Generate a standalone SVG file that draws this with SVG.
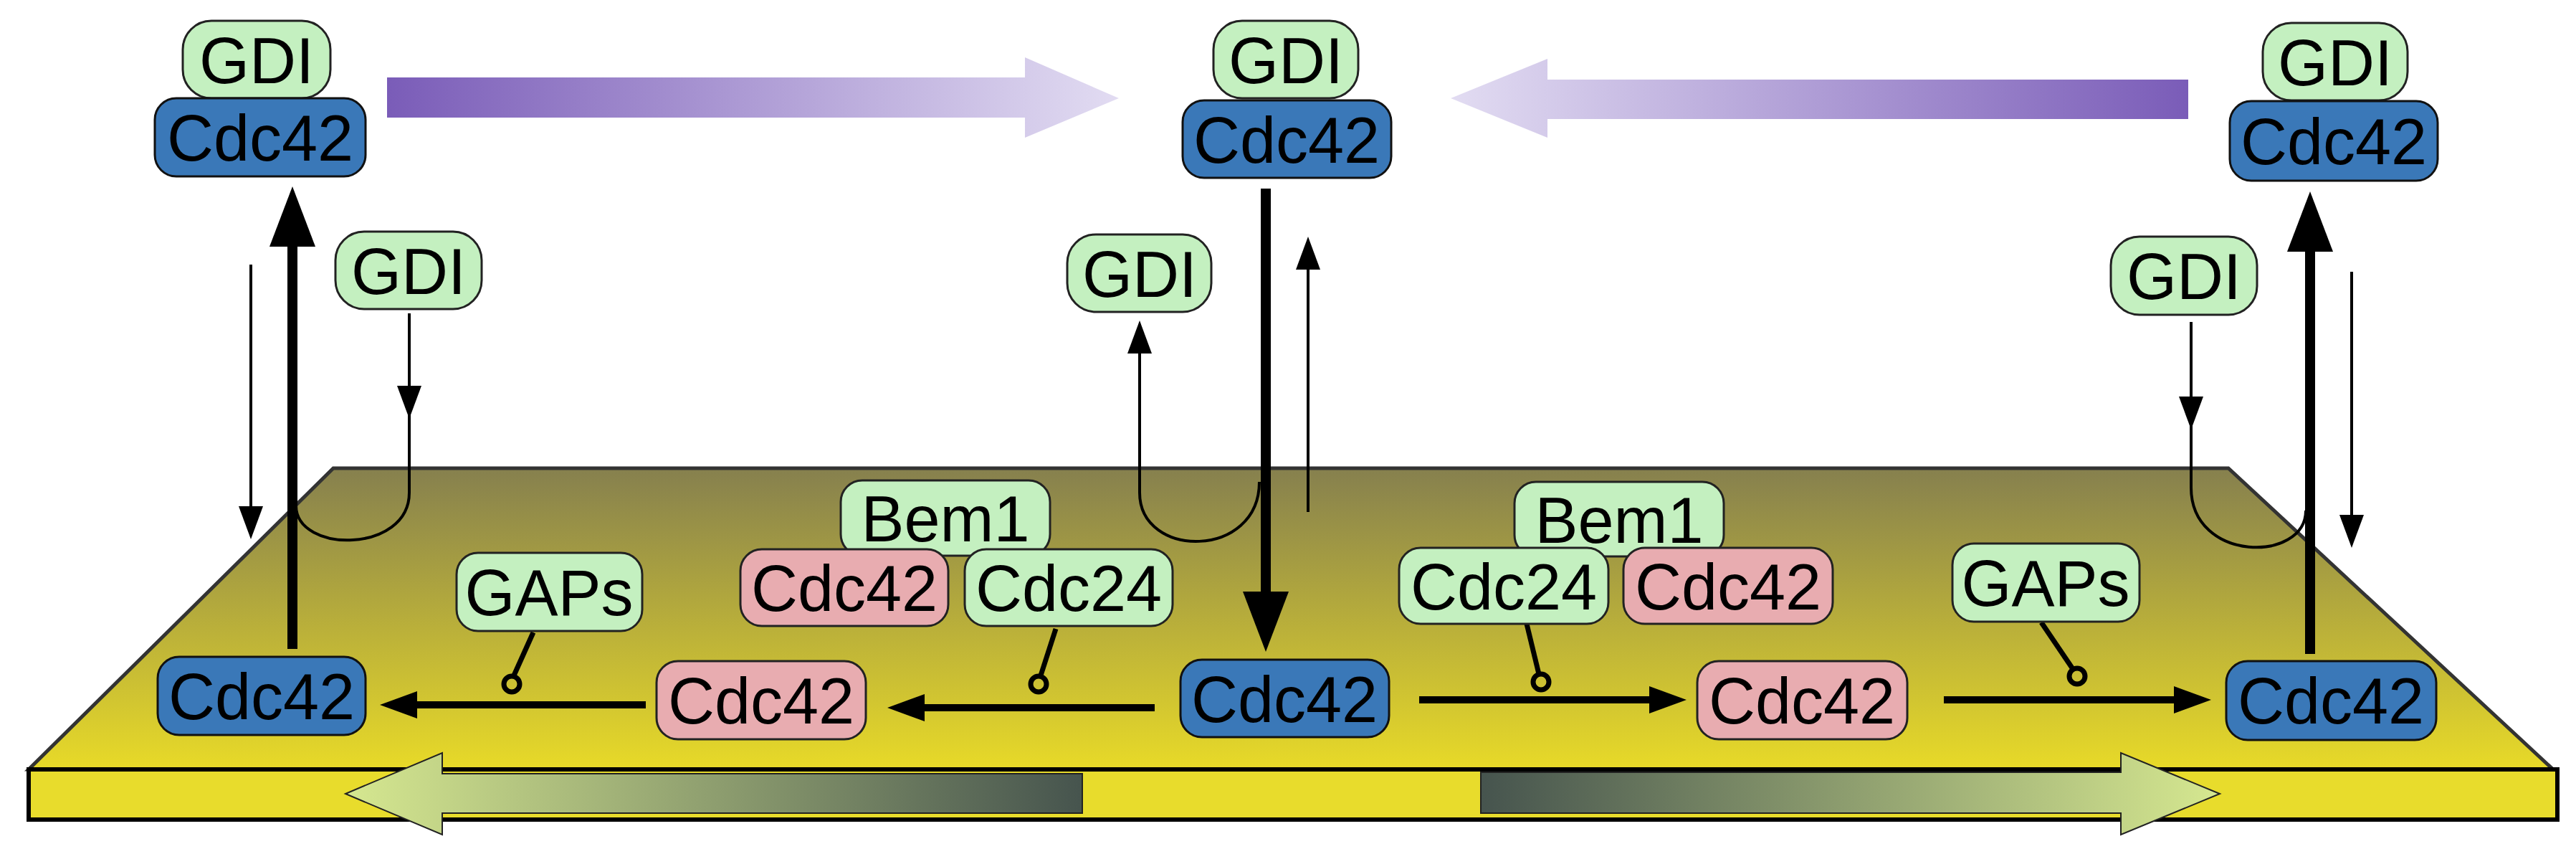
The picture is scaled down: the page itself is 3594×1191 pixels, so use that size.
<svg xmlns="http://www.w3.org/2000/svg" width="3594" height="1191" viewBox="0 0 3594 1191">
<style>
.n text{font-family:"Liberation Sans",Arial,sans-serif;font-size:90px;text-anchor:middle;dominant-baseline:central;fill:#000}
.g rect{fill:#c4f0c0;stroke:#222;stroke-width:3}
.b rect{fill:#3a78b8;stroke:#111;stroke-width:3}
.p rect{fill:#e8acb0;stroke:#222;stroke-width:3}
.thin{stroke:#000;stroke-width:4;fill:none}
.thick{stroke:#000;stroke-width:14;fill:none}
.h{stroke:#000;stroke-width:10;fill:none}
.inh{stroke:#000;stroke-width:7;fill:none}
</style>
<defs>
<linearGradient id="plat" x1="0" y1="0" x2="0" y2="1"><stop offset="0" stop-color="#86804e"/><stop offset="1" stop-color="#e8da28"/></linearGradient>
<linearGradient id="pR" x1="0" y1="0" x2="1" y2="0"><stop offset="0" stop-color="#7a5cb8"/><stop offset="1" stop-color="#e2dcf2"/></linearGradient>
<linearGradient id="pL" x1="0" y1="0" x2="1" y2="0"><stop offset="0" stop-color="#e2dcf2"/><stop offset="1" stop-color="#7a5cb8"/></linearGradient>
<linearGradient id="gL" x1="0" y1="0" x2="1" y2="0"><stop offset="0" stop-color="#d6e890"/><stop offset="1" stop-color="#46544e"/></linearGradient>
<linearGradient id="gR" x1="0" y1="0" x2="1" y2="0"><stop offset="0" stop-color="#46544e"/><stop offset="1" stop-color="#d6e890"/></linearGradient>
</defs>
<g id="platform">
<polygon points="465,653 3109,653 3562,1073 40,1073" fill="url(#plat)" stroke="#333" stroke-width="5"/>
<rect x="40" y="1073" width="3528" height="70" fill="#e8dc2c" stroke="#000" stroke-width="6"/>
</g>
<g id="bigarrows">
<polygon points="540,108 1430,108 1430,80 1561,137 1430,192 1430,164 540,164" fill="url(#pR)"/>
<polygon points="3053,111 2159,111 2159,82 2024,137 2159,192 2159,166 3053,166" fill="url(#pL)"/>
<polygon points="1510,1079 617,1079 617,1050 482,1107 617,1164 617,1134 1510,1134" fill="url(#gL)" stroke="#222" stroke-width="2"/>
<polygon points="2066,1077 2959,1077 2959,1050 3097,1107 2959,1164 2959,1134 2066,1134" fill="url(#gR)" stroke="#222" stroke-width="2"/>
</g>
<g id="connectors">
<line class="thick" x1="408" y1="905" x2="408" y2="320"/><polygon points="408,260 376,344 440,344"/>
<line class="thin" x1="350" y1="369" x2="350" y2="720"/><polygon points="350,752 333,706 367,706"/>
<path class="thin" d="M571,437 V687 C571,772 413,772 413,705"/><polygon points="571,584 554,538 588,538"/>
<line class="thick" x1="1766" y1="263" x2="1766" y2="850"/><polygon points="1766,909 1734,825 1798,825"/>
<line class="thin" x1="1825" y1="714" x2="1825" y2="360"/><polygon points="1825,330 1808,376 1842,376"/>
<path class="thin" d="M1757,672 C1757,780 1590,780 1590,687 V470"/><polygon points="1590,447 1573,493 1607,493"/>
<line class="thick" x1="3223" y1="912" x2="3223" y2="330"/><polygon points="3223,267 3191,351 3255,351"/>
<line class="thin" x1="3281" y1="379" x2="3281" y2="730"/><polygon points="3281,764 3264,718 3298,718"/>
<path class="thin" d="M3057,449 V680 C3057,785 3217,785 3217,712"/><polygon points="3057,599 3040,553 3074,553"/>
<line class="h" x1="901" y1="983" x2="570" y2="983"/><polygon points="530,983 582,964 582,1002"/>
<line class="h" x1="1611" y1="987" x2="1275" y2="987"/><polygon points="1238,987 1290,968 1290,1006"/>
<line class="h" x1="1980" y1="976" x2="2315" y2="976"/><polygon points="2353,976 2301,957 2301,995"/>
<line class="h" x1="2712" y1="976" x2="3045" y2="976"/><polygon points="3085,976 3033,957 3033,995"/>
<line class="inh" x1="744" y1="882" x2="717" y2="942"/><circle class="inh" cx="714" cy="954" r="11"/>
<line class="inh" x1="1473" y1="877" x2="1452" y2="942"/><circle class="inh" cx="1449" cy="954" r="11"/>
<line class="inh" x1="2130" y1="870" x2="2147" y2="940"/><circle class="inh" cx="2150" cy="951" r="11"/>
<line class="inh" x1="2848" y1="868" x2="2892" y2="933"/><circle class="inh" cx="2898" cy="943" r="11"/>
</g>
<g id="n1" class="n g"><rect x="255" y="29" width="206" height="108" rx="40"/><text x="358" y="85">GDI</text></g>
<g id="n2" class="n b"><rect x="216" y="137" width="294" height="109" rx="30"/><text x="363" y="193">Cdc42</text></g>
<g id="n3" class="n g"><rect x="1693" y="29" width="202" height="108" rx="40"/><text x="1794" y="85">GDI</text></g>
<g id="n4" class="n b"><rect x="1650" y="140" width="291" height="108" rx="30"/><text x="1795" y="196">Cdc42</text></g>
<g id="n5" class="n g"><rect x="3157" y="32" width="202" height="108" rx="40"/><text x="3258" y="88">GDI</text></g>
<g id="n6" class="n b"><rect x="3111" y="141" width="290" height="111" rx="30"/><text x="3256" y="198">Cdc42</text></g>
<g id="n7" class="n g"><rect x="468" y="323" width="204" height="108" rx="40"/><text x="570" y="379">GDI</text></g>
<g id="n8" class="n g"><rect x="1489" y="327" width="201" height="108" rx="40"/><text x="1590" y="383">GDI</text></g>
<g id="n9" class="n g"><rect x="2945" y="330" width="204" height="109" rx="40"/><text x="3047" y="386">GDI</text></g>
<g id="n10" class="n g"><rect x="1173" y="670" width="292" height="105" rx="30"/><text x="1319" y="724">Bem1</text></g>
<g id="n11" class="n p"><rect x="1033" y="766" width="290" height="107" rx="30"/><text x="1178" y="821">Cdc42</text></g>
<g id="n12" class="n g"><rect x="1346" y="766" width="290" height="107" rx="30"/><text x="1491" y="821">Cdc24</text></g>
<g id="n13" class="n g"><rect x="637" y="771" width="259" height="109" rx="30"/><text x="766" y="827">GAPs</text></g>
<g id="n14" class="n g"><rect x="2113" y="672" width="292" height="104" rx="30"/><text x="2259" y="726">Bem1</text></g>
<g id="n15" class="n g"><rect x="1952" y="764" width="292" height="106" rx="30"/><text x="2098" y="819">Cdc24</text></g>
<g id="n16" class="n p"><rect x="2265" y="764" width="292" height="106" rx="30"/><text x="2411" y="819">Cdc42</text></g>
<g id="n17" class="n g"><rect x="2724" y="758" width="261" height="109" rx="30"/><text x="2854" y="814">GAPs</text></g>
<g id="n18" class="n b"><rect x="220" y="916" width="290" height="109" rx="30"/><text x="365" y="972">Cdc42</text></g>
<g id="n19" class="n p"><rect x="916" y="922" width="292" height="109" rx="30"/><text x="1062" y="978">Cdc42</text></g>
<g id="n20" class="n b"><rect x="1647" y="920" width="291" height="108" rx="30"/><text x="1792" y="976">Cdc42</text></g>
<g id="n21" class="n p"><rect x="2368" y="922" width="293" height="109" rx="30"/><text x="2514" y="978">Cdc42</text></g>
<g id="n22" class="n b"><rect x="3106" y="922" width="293" height="110" rx="30"/><text x="3252" y="978">Cdc42</text></g>
</svg>
